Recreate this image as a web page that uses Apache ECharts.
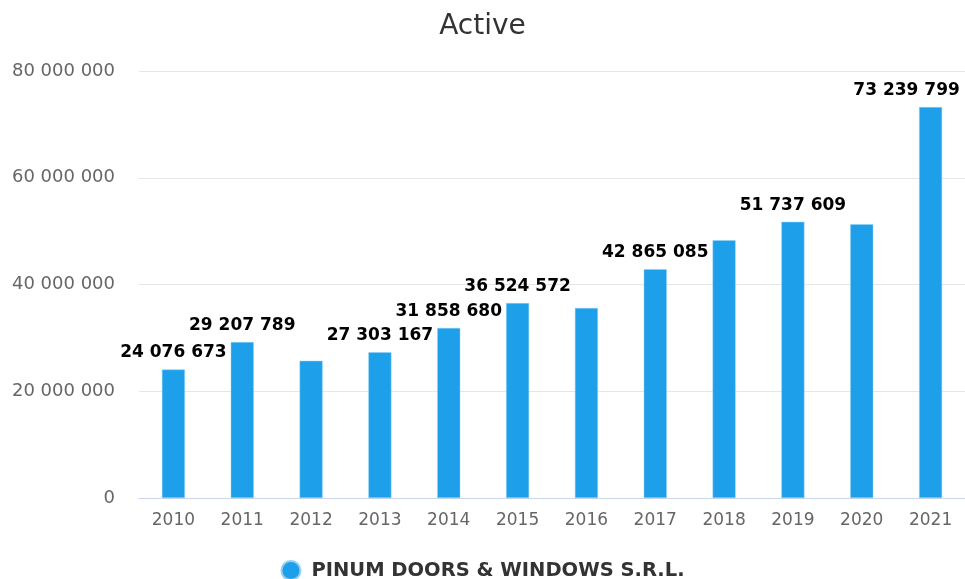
<!DOCTYPE html>
<html lang="en">

<head>
    <meta charset="UTF-8">
    <title>Active</title>
    <script src="https://cdn.jsdelivr.net/npm/echarts@6.0.0/dist/echarts.min.js"></script>
    <style>
        html, body { margin: 0; padding: 0; background: #fff; }
    </style>
</head>

<body>
    <div id="activeChart" style="width: 965px; height: 579px;"></div>
    <script>
        const years = ['2010', '2011', '2012', '2013', '2014', '2015', '2016', '2017', '2018', '2019', '2020', '2021'];
        const activeValues = [24076673, 29207789, 25700000, 27303167, 31858680, 36524572, 35600000, 42865085, 48300000, 51737609, 51300000, 73239799];
        // labels that stay visible (the others are hidden because they overlap)
        const shownLabels = [true, true, false, true, true, true, false, true, false, true, false, true];
        const companyName = 'PINUM DOORS & WINDOWS S.R.L.';

        function spaced(v) {
            return String(Math.round(v)).replace(/\B(?=(\d{3})+(?!\d))/g, ' ');
        }

        const chart = echarts.init(document.getElementById('activeChart'));
        chart.setOption({
            animation: false,
            title: {
                text: 'Active',
                left: 'center',
                top: 8,
                textStyle: { fontFamily: 'DejaVu Sans', fontSize: 28, fontWeight: 'normal', color: '#333333' }
            },
            legend: {
                bottom: -7,
                left: 'center',
                icon: 'circle',
                itemWidth: 19,
                itemHeight: 19,
                itemGap: 10,
                textStyle: { fontFamily: 'DejaVu Sans', fontSize: 19.5, fontWeight: 'bold', color: '#333333', padding: [0, 0, 0, 6] }
            },
            grid: { left: 139, right: -2, top: 71, bottom: 81 },
            xAxis: {
                type: 'category',
                data: years,
                axisLine: { lineStyle: { color: '#ccd6eb' } },
                axisTick: { show: false },
                axisLabel: { fontFamily: 'DejaVu Sans', fontSize: 17, color: '#666666', margin: 14 }
            },
            yAxis: {
                type: 'value',
                min: 0,
                max: 80000000,
                interval: 20000000,
                axisLine: { show: false },
                axisTick: { show: false },
                splitLine: { lineStyle: { color: '#e6e6e6' } },
                axisLabel: {
                    fontFamily: 'DejaVu Sans',
                    fontSize: 18,
                    color: '#666666',
                    margin: 24,
                    formatter: v => spaced(v)
                }
            },
            series: [{
                name: companyName,
                type: 'bar',
                barWidth: 23,
                itemStyle: { color: '#1e9fea', borderColor: '#8fd0f5', borderWidth: 0.5 },
                label: {
                    position: 'top',
                    distance: 8,
                    fontFamily: 'DejaVu Sans',
                    fontSize: 17,
                    fontWeight: 'bold',
                    color: '#000000',
                    formatter: p => spaced(p.value)
                },
                data: activeValues.map((v, i) => ({
                    value: v,
                    // last label is pushed back inside the chart area
                    label: i === activeValues.length - 1 ? { show: shownLabels[i], offset: [-24, 0] } : { show: shownLabels[i] }
                }))
            }]
        });
    </script>
</body>

</html>
